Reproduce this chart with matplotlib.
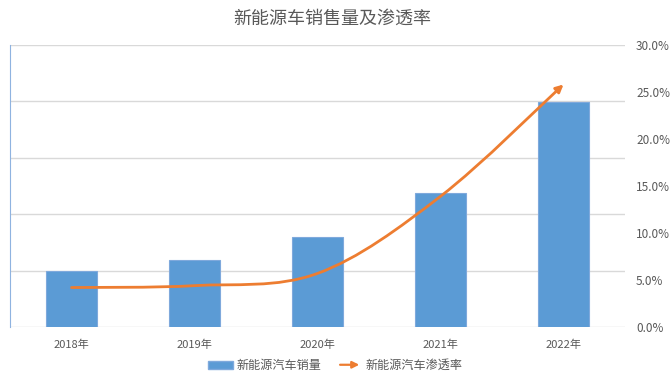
import numpy as np
import matplotlib
matplotlib.use("Agg")
import matplotlib.pyplot as plt
from matplotlib.path import Path
from matplotlib.patches import FancyArrowPatch, Patch
from matplotlib.legend_handler import HandlerBase
from matplotlib.ticker import PercentFormatter

plt.rcParams['font.family'] = ['Noto Sans CJK SC', 'DejaVu Sans']

years = ["2018年", "2019年", "2020年", "2021年", "2022年"]
sales = [198, 237, 318, 476, 797]          # 新能源汽车销量 (left axis, labels hidden in source)
penetration = [4.2, 4.4, 5.7, 13.9, 25.8]  # 新能源汽车渗透率 (%)

BAR_BLUE = "#5B9BD5"
LINE_ORANGE = "#ED7D31"
TEXT_GRAY = "#595959"
GRID_GRAY = "#D9D9D9"


def smooth_path(xs, ys):
    # Excel-style smoothed line: cubic bezier through points (Catmull-Rom control points)
    pts = np.column_stack([xs, ys]).astype(float)
    ext = np.vstack([pts[0], pts, pts[-1]])
    verts = [pts[0]]
    codes = [Path.MOVETO]
    for i in range(len(pts) - 1):
        p0, p1, p2, p3 = ext[i], ext[i + 1], ext[i + 2], ext[i + 3]
        verts += [p1 + (p2 - p0) / 6, p2 - (p3 - p1) / 6, p2]
        codes += [Path.CURVE4] * 3
    return Path(verts, codes)


class ArrowHandler(HandlerBase):
    def create_artists(self, legend, orig_handle, xdescent, ydescent,
                       width, height, fontsize, trans):
        y = height / 2 - ydescent
        a = FancyArrowPatch((-xdescent, y), (width - xdescent, y),
                            arrowstyle='-|>', mutation_scale=10,
                            color=LINE_ORANGE, lw=1.6, transform=trans)
        return [a]


fig = plt.figure(figsize=(6.71, 3.81), dpi=100)
ax = fig.add_axes([10 / 671, 54 / 381, 615 / 671, 282 / 381])
ax2 = ax.twinx()

x = np.arange(len(years))
ax.bar(x, sales, width=0.41, color=BAR_BLUE, edgecolor="#7FA9DC", linewidth=0.8, zorder=2)
ax.set_xlim(-0.5, len(years) - 0.5)
ax.set_ylim(0, 1000)
ax.set_yticks(np.arange(0, 1001, 200))
ax.yaxis.grid(True, color=GRID_GRAY, linewidth=1)
ax.set_axisbelow(True)
ax.tick_params(axis='y', left=False, labelleft=False)
ax.set_xticks(x)
ax.set_xticklabels(years)
ax.tick_params(axis='x', length=0, pad=9, labelsize=8, labelcolor=TEXT_GRAY)
for s in ["top", "right", "bottom"]:
    ax.spines[s].set_visible(False)
ax.spines["left"].set_color("#8FB3E0")

ax2.set_ylim(0, 30)
ax2.set_yticks(np.arange(0, 31, 5))
ax2.yaxis.set_major_formatter(PercentFormatter(decimals=1))
ax2.tick_params(axis='y', length=0, pad=8, labelsize=8.5, labelcolor=TEXT_GRAY)
for s in ax2.spines.values():
    s.set_visible(False)

curve = FancyArrowPatch(path=smooth_path(x, penetration), arrowstyle='-|>',
                        mutation_scale=11, color=LINE_ORANGE, lw=2,
                        transform=ax2.transData, zorder=3)
ax2.add_patch(curve)

fig.text(0.495, 1 - 18.5 / 381, "新能源车销售量及渗透率", ha="center", va="center",
         fontsize=13, color=TEXT_GRAY)

handles = [Patch(facecolor=BAR_BLUE, edgecolor="#7FA9DC"), object()]
fig.legend(handles, ["新能源汽车销量", "新能源汽车渗透率"],
           handler_map={object: ArrowHandler()},
           loc="lower center", bbox_to_anchor=(0.5, -0.005), ncol=2, frameon=False,
           fontsize=8.7, labelcolor=TEXT_GRAY, handlelength=2.05, handleheight=0.6,
           handletextpad=0.3, columnspacing=1.3)

fig.savefig("out.png", dpi=100)
